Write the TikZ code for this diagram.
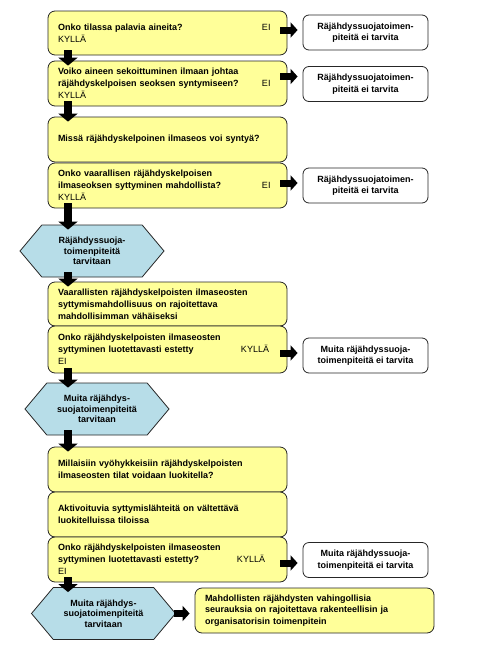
\documentclass[tikz,border=0pt]{standalone}
\usepackage{fontspec}
\setmainfont{Liberation Sans}
\usepackage{xcolor}
\usepackage{tikz}
\usetikzlibrary{arrows.meta, shapes.symbols, calc}

\definecolor{keltainen}{HTML}{FFFF99}
\definecolor{turkoosi}{HTML}{B7DDE8}

\begin{document}
\begin{tikzpicture}[x=1pt, y=-1pt,
    kysymys/.style={draw=black!85, line width=0.8pt, fill=keltainen, rounded corners=7pt,
        minimum width=239pt, text width=219pt, inner xsep=10pt, inner ysep=0pt, align=left,
        font=\bfseries\fontsize{9}{11.8}\selectfont},
    tulos/.style={draw=black!85, line width=0.8pt, fill=white, rounded corners=6pt,
        minimum width=125pt, minimum height=35pt, align=center,
        font=\bfseries\fontsize{9}{11.5}\selectfont},
    kuusikulmio/.style={signal, signal to=east and west, signal pointer angle=100,
        draw=black!85, line width=0.8pt, fill=turkoosi, minimum width=144pt, minimum height=52pt,
        inner sep=1pt, align=center, font=\bfseries\fontsize{9}{10.5}\selectfont},
    alas/.style={line width=8pt, -{Triangle[width=19pt, length=8pt]}, shorten <=-5pt, shorten >=-5pt},
    oikealle/.style={line width=7pt, -{Triangle[width=15pt, length=7pt]}, shorten <=-7pt, shorten >=5pt}]
    \useasboundingbox (0,0) rectangle (487,654);
    \coordinate (akseli) at (68,0);

    % 1. Kysymykset ja toimenpiteet
    \node[kysymys, minimum height=44pt] (k1) at (167.5,33)
        {\makebox[204pt][l]{Onko tilassa palavia aineita?}\mdseries EI\\KYLLÄ};
    \node[kysymys, minimum height=45pt] (k2) at (167.5,83.5)
        {Voiko aineen sekoittuminen ilmaan johtaa\\\makebox[204pt][l]{räjähdyskelpoisen seoksen syntymiseen?}\mdseries EI\\KYLLÄ};
    \node[kysymys, minimum height=45pt] (k3) at (167.5,139.5)
        {Missä räjähdyskelpoinen ilmaseos voi syntyä?};
    \node[kysymys, minimum height=45pt] (k4) at (167.5,185.5)
        {Onko vaarallisen räjähdyskelpoisen\\\makebox[204pt][l]{ilmaseoksen syttyminen mahdollista?}\mdseries EI\\KYLLÄ};
    \node[kysymys, minimum height=44pt] (k5) at (167.5,304)
        {Vaarallisten räjähdyskelpoisten ilmaseosten\\syttymismahdollisuus on rajoitettava\\mahdollisimman vähäiseksi};
    \node[kysymys, minimum height=47pt] (k6) at (167.5,349.5)
        {Onko räjähdyskelpoisten ilmaseosten\\\makebox[183pt][l]{syttyminen luotettavasti estetty}\mdseries KYLLÄ\\EI};
    \node[kysymys, minimum height=45pt] (k7) at (167.5,469.5)
        {Millaisiin vyöhykkeisiin räjähdyskelpoisten\\ilmaseosten tilat voidaan luokitella?};
    \node[kysymys, minimum height=45pt] (k8) at (167.5,514.5)
        {Aktivoituvia syttymislähteitä on vältettävä\\luokitelluissa tiloissa};
    \node[kysymys, minimum height=45pt] (k9) at (167.5,559.5)
        {Onko räjähdyskelpoisten ilmaseosten\\\makebox[179pt][l]{syttyminen luotettavasti estetty?}\mdseries KYLLÄ\\EI};
    \node[kysymys, minimum height=45pt] (k10) at (314.5,610.5)
        {Mahdollisten räjähdysten vahingollisia\\seurauksia on rajoitettava rakenteellisin ja\\organisatorisin toimenpitein};

    % 2. Kuusikulmiot
    \node[kuusikulmio] (h1) at (92,251) {Räjähdyssuoja-\\toimenpiteitä\\tarvitaan};
    \node[kuusikulmio] (h2) at (97,409) {Muita räjähdys-\\suojatoimenpiteitä\\tarvitaan};
    \node[kuusikulmio] (h3) at (103.5,613.5) {Muita räjähdys-\\suojatoimenpiteitä\\tarvitaan};

    % 3. Oikean reunan laatikot
    \node[tulos] (r1) at (365.5,32.5) {Räjähdyssuojatoimen-\\piteitä ei tarvita};
    \node[tulos] (r2) at (365.5,84) {Räjähdyssuojatoimen-\\piteitä ei tarvita};
    \node[tulos] (r4) at (365.5,185.5) {Räjähdyssuojatoimen-\\piteitä ei tarvita};
    \node[tulos] (r6) at (365.5,355.5) {Muita räjähdyssuoja-\\toimenpiteitä ei tarvita};
    \node[tulos] (r9) at (365.5,560) {Muita räjähdyssuoja-\\toimenpiteitä ei tarvita};

    % 4. Nuolet alas
    \draw[alas] (k1.south -| akseli) -- (k2.north -| akseli);
    \draw[alas] (k2.south -| akseli) -- (k3.north -| akseli);
    \draw[alas] (k4.south -| akseli) -- (h1.north -| akseli);
    \draw[alas] (h1.south -| akseli) -- (k5.north -| akseli);
    \draw[alas] (k6.south -| akseli) -- (h2.north -| akseli);
    \draw[alas] (h2.south -| akseli) -- (k7.north -| akseli);
    \draw[alas] (k9.south -| akseli) -- (h3.north -| akseli);

    % 5. Nuolet oikealle
    \draw[oikealle] ([yshift=3pt]k1.east) -- ([yshift=3pt]k1.east -| r1.west);
    \draw[oikealle] ([yshift=7pt]k2.east) -- ([yshift=7pt]k2.east -| r2.west);
    \draw[oikealle] ([yshift=2.5pt]k4.east) -- ([yshift=2.5pt]k4.east -| r4.west);
    \draw[oikealle] ([yshift=-3.5pt]k6.east) -- ([yshift=-3.5pt]k6.east -| r6.west);
    \draw[oikealle] ([yshift=-3.5pt]k9.east) -- ([yshift=-3.5pt]k9.east -| r9.west);
    \draw[oikealle, shorten <=-2pt] (h3.east) -- (k10.west |- h3.east);
\end{tikzpicture}
\end{document}
